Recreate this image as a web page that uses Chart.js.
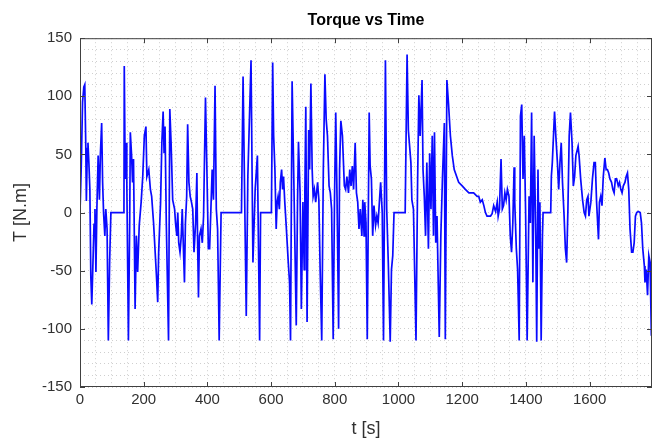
<!DOCTYPE html>
<html>
<head>
<meta charset="utf-8">
<title>Torque vs Time</title>
<script src="https://cdn.jsdelivr.net/npm/chart.js@4.4.1/dist/chart.umd.min.js"></script>
<style>
  html, body { margin: 0; padding: 0; background: #fff; }
  #torque-chart { display: block; }
</style>
</head>
<body>
<canvas id="torque-chart" width="657" height="441"></canvas>
<script>
// values (t in s, T in N.m)
const timeS = [
  0, 4, 8, 12, 15, 18, 20, 23, 25, 28, 31, 34, 37, 41, 44, 47, 50, 53, 57, 61,
  64, 68, 71, 74, 78, 81, 85, 89, 93, 97, 138,
  139, 142, 145, 147, 152, 156, 158, 162, 165, 168, 173, 177, 181, 186, 192, 197, 202, 207, 210,
  216, 221, 225, 231, 236, 240, 244, 247, 253, 257, 261, 264, 267, 271, 278, 282, 286, 291,
  297, 300, 304, 307, 310, 314, 318, 321, 328, 331, 335, 338, 342, 346, 350, 354, 358, 363,
  367, 369, 372, 375, 380, 384, 388, 394, 398, 403, 407, 411, 415, 419, 424, 428, 432, 437,
  443, 507, 512, 522, 527, 537, 543, 550, 557, 560, 564, 567, 601,
  605, 608, 612, 616, 619, 622, 626, 629, 633, 636, 639, 643, 648, 654, 658, 661, 666, 670,
  675, 679, 683, 686, 691, 695, 700, 704, 706, 709, 713, 718, 721, 725, 729, 732, 736, 740,
  746, 750, 754, 759, 764, 769, 773, 777, 782, 786, 790, 795, 799, 803, 807, 812, 815, 819,
  824, 830, 834, 838, 843, 847, 851, 855, 859, 864, 868, 872, 876, 880, 885, 888, 892,
  894, 898, 902, 908, 911, 915, 919, 923, 928, 932, 936, 940, 944, 949, 953, 959, 963, 968,
  974, 978, 982, 986, 1021, 1027, 1031, 1035, 1039, 1042, 1047, 1055, 1060, 1064, 1068, 1074,
  1077, 1081, 1085, 1089, 1094, 1098, 1102, 1106, 1110, 1113, 1117, 1121, 1125, 1128, 1133,
  1138, 1144, 1147, 1152, 1157, 1163, 1169, 1175, 1184,
  1189, 1200, 1210, 1221, 1236, 1247, 1252, 1257, 1263, 1268, 1273, 1278, 1289, 1294, 1299,
  1305, 1310, 1313, 1317, 1322, 1326, 1330, 1334, 1338, 1342, 1347, 1351, 1355, 1359, 1363,
  1365, 1370, 1374, 1379, 1383, 1387, 1391, 1395, 1399, 1404, 1410, 1414, 1418, 1422, 1426,
  1431, 1434, 1438, 1441, 1444, 1448, 1452, 1454, 1478, 1480, 1483,
  1490, 1494, 1499, 1503, 1507, 1511, 1515, 1520, 1524, 1528, 1532, 1536, 1540, 1545, 1549,
  1553, 1557, 1564, 1567, 1572, 1578, 1583, 1587, 1591, 1595, 1598, 1604, 1609, 1614, 1618,
  1622, 1628, 1631, 1635, 1639, 1643, 1648, 1652, 1656, 1660, 1664, 1669, 1673, 1677, 1681,
  1685, 1690, 1694, 1698, 1702, 1706, 1711, 1715, 1719, 1723, 1727, 1732, 1736, 1740, 1744,
  1748, 1753, 1759, 1763, 1767, 1772, 1774, 1778, 1782, 1786, 1790, 1794, 1796
];
const torqueNm = [
  0, 40, 95, 108, 110, 60, 10, 55, 60, 42, 20, -55, -79, -40, -10, 3, -51, 3, 49, 11,
  50, 77, 26, 0, -20, 3, -14, -110, -43, 0, 0,
  126, 29, 60, 26, -110, -9, 69, 49, 26, 46, -83, -20, -51, -11, 9, 31, 66, 74, 31,
  37, 20, 14, -9, -34, -54, -77, -34, 9, 60, 87, 51, 74, -9, -110, 89, 60, 11,
  3, -9, -20, 0, -26, -34, -20, 3, -60, -9, 14, 76, 26, 14, 9, 3, -34, -9,
  34, -20, -73, -20, -14, -26, -3, 99, 43, -31, -31, 3, 37, 11, 109, 3, -14, -110,
  0, 0, 117, -89, 31, 131, -43, 20, 49, -20, -110, 0, 0,
  129, 66, 37, -14, 9, 14, 3, 26, 37, 20, 31, 9, -14, -43, -60, -110, 113, 51,
  -31, -97, 9, 61, 17, -83, 9, -49, 17, 91, -94, 71, 37, 111, 37, 14, 20, 9,
  26, 11, -49, -110, 37, 119, 80, 66, 23, 17, 3, -109, 9, 86, 14, -100, 37, 79,
  66, 23, 20, 31, 17, 37, 23, 40, 20, 60, 17, 9, -14, 3, -20, 11, -20,
  9, -9, -109, 86, 40, 29, -20, 6, -11, -3, -9, 9, 26, 0, -110, 131, 3, -43,
  -111, -49, -37, 0, 0, 136, 71, 57, 43, 11, 3, -110, 26, 101, 66, 114,
  37, 14, -20, 43, -31, 51, 3, 66, -20, 69, -26, -3, -63, -107, -20,
  29, 77, -109, 114, 94, 66, 49, 37, 30,
  26, 23, 20, 17, 17, 14, 14, 9, 11, 6, 0, -3, -3, -1, 6,
  1, 9, -3, 3, 46, 3, 6, 17, 11, 20, 14, -20, -34, -9, 39,
  9, -31, -49, -110, 83, 93, 29, 66, 3, -110, 14, -9, 86, -60, 66,
  -20, -111, 37, -31, 9, -110, -20, 0, 0, 31, 43,
  87, 66, 43, 20, 43, 60, 26, -3, -31, -43, 3, 66, 86, 60, 23,
  31, 49, 57, 49, 29, 11, 0, -3, 11, 14, -3, 9, 29, 43, 43,
  9, -23, 9, 14, 6, 31, 47, 37, 37, 34, 29, 26, 20, 17, 29,
  29, 23, 26, 20, 17, 23, 26, 31, 34, 20, -14, -34, -34, -26, -3,
  0, 1, 0, -9, -31, -46, -60, -49, -71, -37, -43, -106, 0
];
const xTickLabels = [0, 200, 400, 600, 800, 1000, 1200, 1400, 1600];
const yTickLabels = [-150, -100, -50, 0, 50, 100, 150];

const FONT = '"Liberation Sans", Arial, Helvetica, sans-serif';
const textColor = '#303030';
const axisColor = '#404040';

// matlab style box around the axes, with inward major ticks
const boxPlugin = {
  id: 'box',
  afterDraw(chart) {
    const { ctx, chartArea: a, scales } = chart;
    ctx.save();
    ctx.strokeStyle = axisColor;
    ctx.lineWidth = 1;
    ctx.strokeRect(a.left + 0.5, a.top + 0.5, a.right - a.left - 1, a.bottom - a.top - 1);
    ctx.beginPath();
    xTickLabels.forEach(v => {
      const x = Math.round(scales.x.getPixelForValue(v)) + 0.5;
      ctx.moveTo(x, a.bottom); ctx.lineTo(x, a.bottom - 5);
      ctx.moveTo(x, a.top); ctx.lineTo(x, a.top + 5);
    });
    yTickLabels.forEach(v => {
      const y = Math.round(scales.y.getPixelForValue(v)) + 0.5;
      ctx.moveTo(a.left, y); ctx.lineTo(a.left + 5, y);
      ctx.moveTo(a.right, y); ctx.lineTo(a.right - 5, y);
    });
    ctx.stroke();
    ctx.restore();
  }
};

const points = timeS.map((t, i) => ({ x: t, y: torqueNm[i] }));

const gridOpts = { color: '#cfcfcf', lineWidth: 1, drawTicks: false, borderDash: [1, 3] };
const borderOpts = { display: false, dash: [1, 3] };

new Chart(document.getElementById('torque-chart'), {
  type: 'line',
  data: {
    datasets: [{
      data: points,
      borderColor: '#0a0aff',
      borderWidth: 1.7,
      pointRadius: 0,
      tension: 0,
      fill: false
    }]
  },
  options: {
    responsive: false,
    animation: false,
    layout: { padding: { left: 0, right: 5, top: 0, bottom: 0 } },
    plugins: {
      legend: { display: false },
      tooltip: { enabled: false },
      title: {
        display: true,
        text: 'Torque vs Time',
        fullSize: false,
        color: '#000',
        font: { family: FONT, size: 16, weight: 'bold' },
        padding: { top: 11, bottom: 8 }
      }
    },
    scales: {
      x: {
        type: 'linear',
        min: 0,
        max: 1796,
        grid: gridOpts,
        border: borderOpts,
        ticks: {
          stepSize: 50,
          includeBounds: false,
          autoSkip: false,
          maxRotation: 0,
          padding: 4,
          color: textColor,
          font: { family: FONT, size: 15 },
          callback: v => xTickLabels.includes(v) ? String(v) : ''
        },
        title: {
          display: true,
          text: 't [s]',
          color: textColor,
          font: { family: FONT, size: 18 },
          padding: { top: 0, bottom: 1 }
        },
        afterFit: s => { s.height = 54; }
      },
      y: {
        min: -150,
        max: 150,
        grid: gridOpts,
        border: borderOpts,
        ticks: {
          stepSize: 10,
          autoSkip: false,
          padding: 8,
          color: textColor,
          font: { family: FONT, size: 15 },
          callback: v => yTickLabels.includes(v) ? String(v) : ''
        },
        title: {
          display: true,
          text: 'T [N.m]',
          color: textColor,
          font: { family: FONT, size: 18 },
          padding: { top: 10, bottom: 0 }
        },
        afterFit: s => { s.width = 80; }
      }
    }
  },
  plugins: [boxPlugin]
});
</script>
</body>
</html>
